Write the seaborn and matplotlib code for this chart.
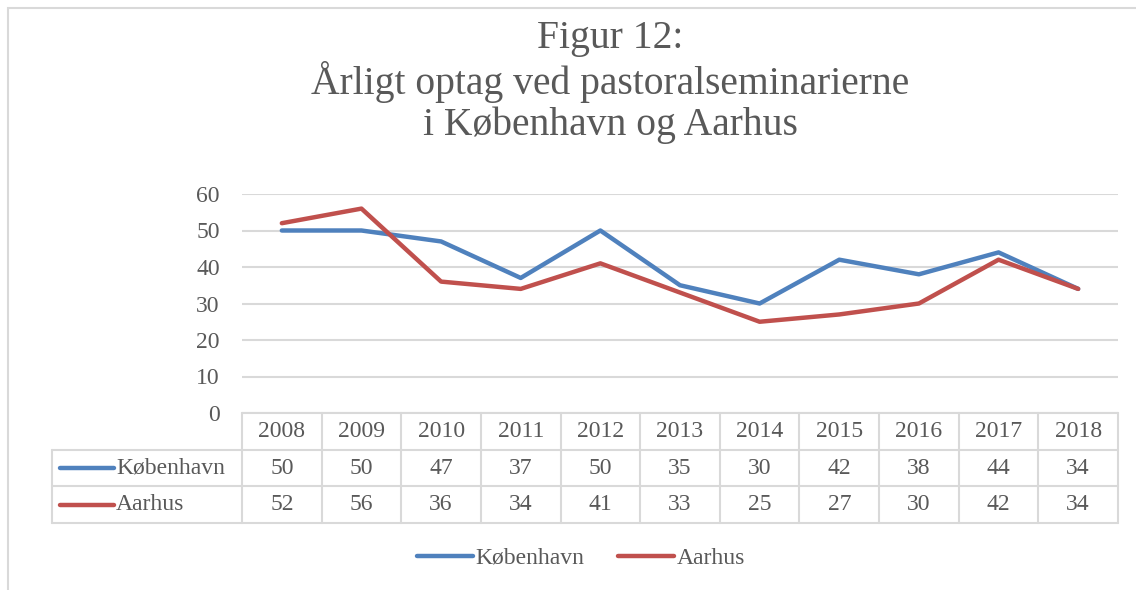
import matplotlib
matplotlib.use('Agg')
import matplotlib.pyplot as plt
import matplotlib.transforms as mtransforms
from matplotlib.lines import Line2D
from matplotlib.patches import Rectangle
import seaborn as sns

# data
years = ['2008', '2009', '2010', '2011', '2012', '2013', '2014', '2015', '2016', '2017', '2018']
kobenhavn = [50, 50, 47, 37, 50, 35, 30, 42, 38, 44, 34]
aarhus = [52, 56, 36, 34, 41, 33, 25, 27, 30, 42, 34]
series_names = ['København', 'Aarhus']
series_colors = ['#4f81bd', '#c0504d']

sns.set_theme(style='white')
plt.rcParams['font.family'] = ['Liberation Serif', 'DejaVu Serif']

txt = '#595959'
grid_c = '#d9d9d9'
W, H = 1136, 590
fs = 17

fig = plt.figure(figsize=(W / 100, H / 100), dpi=100)
ax = fig.add_axes([242 / W, (H - 413) / H, (1118 - 242) / W, (413 - 194) / H])

x = list(range(len(years)))
sns.lineplot(x=x, y=kobenhavn, ax=ax, color=series_colors[0], linewidth=3.2, label=series_names[0])
sns.lineplot(x=x, y=aarhus, ax=ax, color=series_colors[1], linewidth=3.2, label=series_names[1])

ax.set_xlim(-0.5, len(years) - 0.5)
ax.set_ylim(0, 60)
ax.set_yticks(range(0, 61, 10))
ax.set_xticks([])
ax.yaxis.grid(True, color=grid_c, linewidth=1.5)
ax.set_axisbelow(True)
for s in ax.spines.values():
    s.set_visible(False)
ax.tick_params(axis='y', length=0, pad=16, labelsize=fs, labelcolor=txt)
ax.get_legend().remove()

# data table under the axis
tr = mtransforms.blended_transform_factory(ax.transData, ax.transAxes)
rh = 36.7 / 219
n = len(years)
unit = (1118 - 242) / n
left = -0.5 - (242 - 52) / unit
lw = 1.5
for k in range(n + 1):
    ax.add_line(Line2D([k - 0.5, k - 0.5], [0, -3 * rh], transform=tr, color=grid_c, lw=lw, clip_on=False))
ax.add_line(Line2D([left, left], [-rh, -3 * rh], transform=tr, color=grid_c, lw=lw, clip_on=False))
ax.add_line(Line2D([-0.5, n - 0.5], [0, 0], transform=tr, color=grid_c, lw=lw, clip_on=False))
for r in range(1, 4):
    ax.add_line(Line2D([left, n - 0.5], [-r * rh, -r * rh], transform=tr, color=grid_c, lw=lw, clip_on=False))

for i, yr in enumerate(years):
    ax.text(i, -0.5 * rh, yr, transform=tr, ha='center', va='center', fontsize=fs, color=txt)
for r, (vals, name, col) in enumerate(zip([kobenhavn, aarhus], series_names, series_colors)):
    yc = -(r + 1.5) * rh
    for i, v in enumerate(vals):
        ax.text(i, yc, str(v), transform=tr, ha='center', va='center', fontsize=fs, color=txt)
    ax.add_line(Line2D([left + 8 / unit, left + 62 / unit], [yc, yc], transform=tr, color=col, lw=3.2,
                       solid_capstyle='round', clip_on=False))
    ax.text(left + 64 / unit, yc, name, transform=tr, ha='left', va='center', fontsize=fs, color=txt)

# title
fig.text(610 / W, (H - 82) / H, 'Figur 12:\nÅrligt optag ved pastoralseminarierne\ni København og Aarhus',
         ha='center', va='center', fontsize=28.5, color=txt, linespacing=1.12)

# legend
handles = [Line2D([], [], color=c, lw=3.2, solid_capstyle='round') for c in series_colors]
fig.legend(handles, series_names, loc='center', bbox_to_anchor=(581 / W, (H - 558) / H), ncol=2,
           frameon=False, fontsize=fs, labelcolor=txt, handlelength=2.4, handletextpad=0.1,
           columnspacing=1.4)

# chart frame
fig.patches.append(Rectangle((8 / W, -0.1), 1.2, (H - 8) / H + 0.1, transform=fig.transFigure,
                             fill=False, edgecolor=grid_c, linewidth=1.5))

fig.savefig('out.png', dpi=100, facecolor='white')
